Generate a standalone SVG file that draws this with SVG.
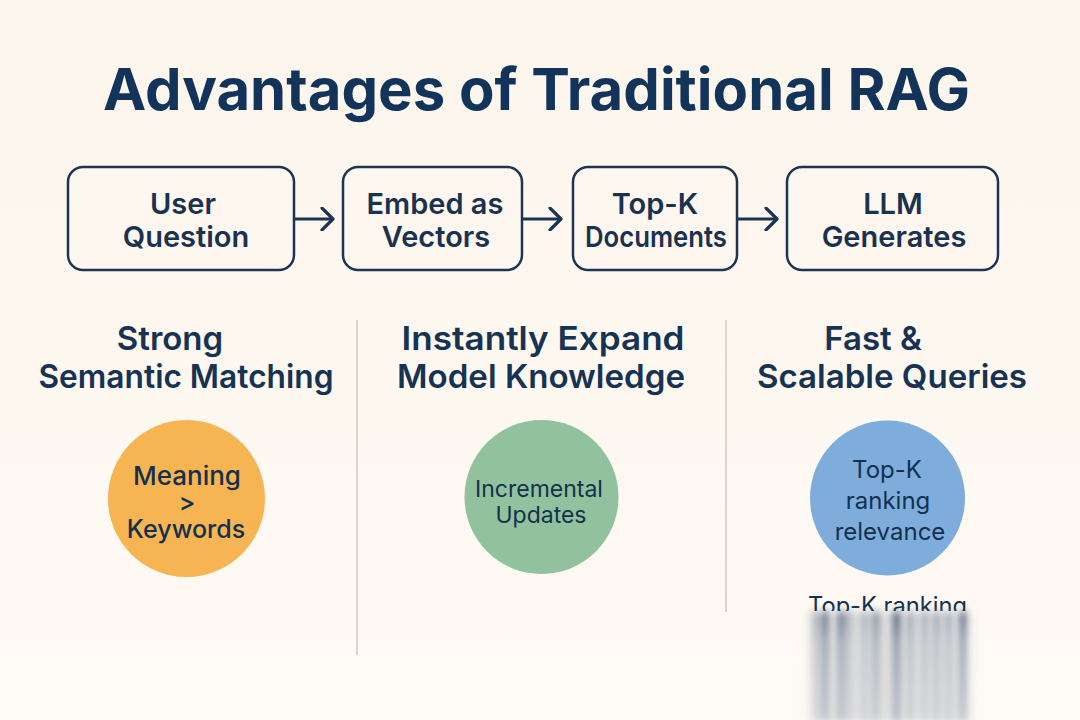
<svg xmlns="http://www.w3.org/2000/svg" width="1080" height="720" viewBox="0 0 1080 720">
  <defs>
    <linearGradient id="bg" x1="0" y1="0" x2="0" y2="1">
      <stop offset="0" stop-color="#fcf5ec"/>
      <stop offset="1" stop-color="#fefaf4"/>
    </linearGradient>
    <linearGradient id="streak" x1="0" y1="0" x2="0" y2="1">
      <stop offset="0" stop-color="#1d3552" stop-opacity="0.95"/>
      <stop offset="0.3" stop-color="#3a5272" stop-opacity="0.6"/>
      <stop offset="1" stop-color="#5a6f8a" stop-opacity="0.4"/>
    </linearGradient>
    <linearGradient id="wash" x1="0" y1="0" x2="0" y2="1">
      <stop offset="0" stop-color="#8e9aab" stop-opacity="0.3"/>
      <stop offset="1" stop-color="#9aa5b4" stop-opacity="0.3"/>
    </linearGradient>
    <filter id="blurx" x="-50%" y="-10%" width="200%" height="120%">
      <feGaussianBlur stdDeviation="3.5 4"/>
    </filter>
    <filter id="blurw" x="-20%" y="-10%" width="140%" height="120%">
      <feGaussianBlur stdDeviation="7 4"/>
    </filter>
    <clipPath id="cut"><rect x="780" y="560" width="240" height="51"/></clipPath>
    <marker id="arrow" viewBox="0 0 16 24" refX="13" refY="12" markerWidth="16" markerHeight="24" markerUnits="userSpaceOnUse" orient="auto">
      <polyline points="2,1 13,12 2,23" fill="none" stroke="#1b3452" stroke-width="3.2" stroke-linecap="round" stroke-linejoin="round"/>
    </marker>
    <style>
      .title { font-family: Inter, "Liberation Sans", sans-serif; font-weight: 700; font-size: 58px; fill: #13345a; }
      .box { fill: #fdf7ef; stroke: #1d3552; stroke-width: 2.5; }
      .btxt { font-family: Inter, "Liberation Sans", sans-serif; font-weight: 600; font-size: 29px; fill: #1a3250; text-anchor: middle; }
      .head { font-family: Inter, "Liberation Sans", sans-serif; font-weight: 600; font-size: 33px; fill: #163353; text-anchor: middle; }
      .ctxt { font-family: Inter, "Liberation Sans", sans-serif; font-weight: 400; font-size: 23px; fill: #14304f; text-anchor: middle; }
      .ctxtm { font-family: Inter, "Liberation Sans", sans-serif; font-weight: 500; font-size: 25px; fill: #14304f; text-anchor: middle; }
      .div { stroke: #ddd5ca; stroke-width: 2; }
      .conn { stroke: #1b3452; stroke-width: 3.2; fill: none; }
    </style>
  </defs>

  <rect x="0" y="0" width="1080" height="720" fill="url(#bg)"/>

  <text class="title" x="103" y="110" textLength="867" lengthAdjust="spacingAndGlyphs">Advantages of Traditional RAG</text>

  <g id="node-user-question">
    <rect class="box" x="68" y="167" width="226" height="103" rx="15"/>
    <text class="btxt" x="183" y="214">User</text>
    <text class="btxt" x="186" y="247">Question</text>
  </g>
  <g id="node-embed-vectors">
    <rect class="box" x="343" y="167" width="179" height="103" rx="15"/>
    <text class="btxt" x="435" y="214">Embed as</text>
    <text class="btxt" x="436" y="247">Vectors</text>
  </g>
  <g id="node-topk-documents">
    <rect class="box" x="573" y="167" width="164" height="103" rx="15"/>
    <text class="btxt" x="655" y="214">Top-K</text>
    <text class="btxt" x="656" y="247" textLength="142" lengthAdjust="spacingAndGlyphs">Documents</text>
  </g>
  <g id="node-llm-generates">
    <rect class="box" x="787" y="167" width="211" height="103" rx="15"/>
    <text class="btxt" x="893" y="214">LLM</text>
    <text class="btxt" x="894" y="247">Generates</text>
  </g>

  <g id="connectors">
    <line class="conn" x1="295" y1="219" x2="333" y2="219" marker-end="url(#arrow)"/>
    <line class="conn" x1="523" y1="219" x2="561" y2="219" marker-end="url(#arrow)"/>
    <line class="conn" x1="738" y1="219" x2="777" y2="219" marker-end="url(#arrow)"/>
  </g>

  <g id="dividers">
    <line class="div" x1="357" y1="320" x2="357" y2="655"/>
    <line class="div" x1="726" y1="320" x2="726" y2="612"/>
  </g>

  <g id="col-semantic">
    <text class="head" x="170" y="350">Strong</text>
    <text class="head" x="186" y="388" textLength="295" lengthAdjust="spacingAndGlyphs">Semantic Matching</text>
    <circle cx="186.5" cy="498.5" r="78.5" fill="#f7b453"/>
    <text class="ctxtm" x="187" y="485" style="font-size:26px">Meaning</text>
    <text class="ctxtm" x="187" y="511">&gt;</text>
    <text class="ctxtm" x="186" y="538">Keywords</text>
  </g>

  <g id="col-expand">
    <text class="head" x="543" y="350" textLength="283" lengthAdjust="spacingAndGlyphs">Instantly Expand</text>
    <text class="head" x="541" y="388" textLength="288" lengthAdjust="spacingAndGlyphs">Model Knowledge</text>
    <circle cx="541.5" cy="497" r="77" fill="#92c29d"/>
    <text class="ctxt" x="539" y="497">Incremental</text>
    <text class="ctxt" x="541" y="523">Updates</text>
  </g>

  <g id="col-fast">
    <text class="head" x="873" y="350">Fast &amp;</text>
    <text class="head" x="892" y="388" textLength="270" lengthAdjust="spacingAndGlyphs">Scalable Queries</text>
    <circle cx="887.5" cy="498" r="77.5" fill="#7eaddb"/>
    <text class="ctxt" x="887" y="478" style="font-size:24px">Top-K</text>
    <text class="ctxt" x="888" y="509" style="font-size:24px">ranking</text>
    <text class="ctxt" x="890" y="540" style="font-size:24px">relevance</text>
  </g>

  <g id="glitch-label">
    <text class="ctxt" x="887.5" y="614" clip-path="url(#cut)" style="font-size:24px" textLength="159" lengthAdjust="spacingAndGlyphs">Top-K ranking</text>
    <rect x="812" y="612" width="156" height="110" fill="url(#wash)" filter="url(#blurw)"/>
    <g filter="url(#blurx)" fill="url(#streak)">
      <rect x="813" y="612" width="5" height="110" opacity="0.45"/>
      <rect x="822" y="612" width="6" height="110" opacity="0.8"/>
      <rect x="838" y="612" width="6" height="110" opacity="0.75"/>
      <rect x="847" y="612" width="4" height="110" opacity="0.45"/>
      <rect x="862" y="612" width="5" height="110" opacity="0.4"/>
      <rect x="873" y="612" width="6" height="110" opacity="0.6"/>
      <rect x="893" y="612" width="7" height="110" opacity="0.85"/>
      <rect x="908" y="612" width="5" height="110" opacity="0.5"/>
      <rect x="922" y="612" width="5" height="110" opacity="0.45"/>
      <rect x="934" y="612" width="5" height="110" opacity="0.5"/>
      <rect x="946" y="612" width="5" height="110" opacity="0.45"/>
      <rect x="960" y="612" width="6" height="110" opacity="0.85"/>
    </g>
  </g>
</svg>
